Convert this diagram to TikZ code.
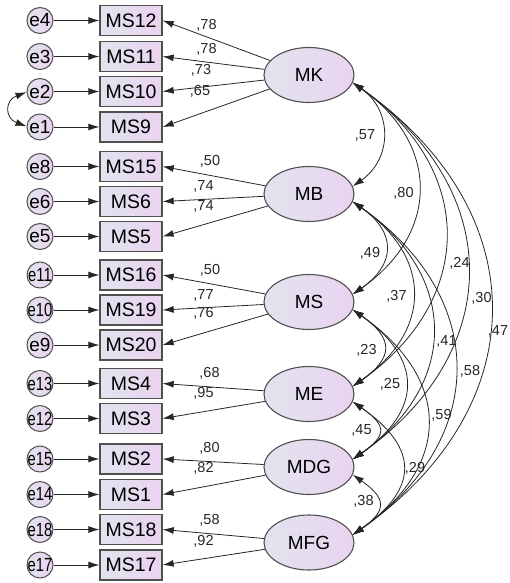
\documentclass[tikz,border=0pt]{standalone}
\usepackage{fontspec}
\setmainfont{Liberation Sans}
\usetikzlibrary{arrows.meta,shapes.geometric}

\definecolor{shadeL}{HTML}{E1E4EE}
\definecolor{shadeR}{HTML}{EAD3F0}
\definecolor{edgegray}{HTML}{505050}

\tikzset{
	obs/.style={draw=edgegray, line width=1.3pt, left color=shadeL, right color=shadeR, minimum width=62pt, minimum height=30pt, inner sep=0pt, font=\fontsize{19.5}{20}\selectfont},
	lat/.style={ellipse, draw=edgegray, line width=1.1pt, left color=shadeL, right color=shadeR, minimum width=90pt, minimum height=55pt, inner sep=0pt, font=\fontsize{19}{20}\selectfont},
	err/.style={circle, draw=edgegray, line width=1pt, left color=shadeL, right color=shadeR, minimum size=26pt, inner sep=0pt, font=\fontsize{19}{20}\selectfont},
	arr/.style={-{Latex[length=11pt,width=7pt]}, line width=0.8pt, draw=black!85},
	cov/.style={{Latex[length=11pt,width=7pt]}-{Latex[length=11pt,width=7pt]}, line width=0.8pt, draw=black!85},
	lbl/.style={font=\fontsize{14.5}{15}\selectfont, inner sep=0pt, text=black!85}
}

\begin{document}
\begin{tikzpicture}[x=1pt, y=1pt]
	\useasboundingbox (0,0) rectangle (510,-583);
	% Items and errors
	\foreach \nm/\y/\e/\sx in {MS12/20.5/e4/1, MS11/56.5/e3/1, MS10/91.5/e2/1, MS9/127/e1/1, MS15/166.5/e8/1, MS6/201.5/e6/1, MS5/236.5/e5/1, MS16/275/e11/.78, MS19/310/e10/.78, MS20/345/e9/1, MS4/383.5/e13/.78, MS3/418.5/e12/.78, MS2/459/e15/.78, MS1/494.5/e14/.78, MS18/529.5/e18/.78, MS17/565/e17/.78} {
		\node[obs] (\nm) at (131,-\y) {\nm};
		\node[err] (\e) at (40,-\y) {\makebox[0pt]{\scalebox{\sx}[1]{\e}}};
		\draw[arr] (\e) -- (\nm);
	}
	% Factors
	\foreach \lv/\y in {MK/75, MB/194, MS/302, ME/394, MDG/467, MFG/542.5} {
		\node[lat] (\lv) at (309,-\y) {\lv};
	}
	% Loadings
	\foreach \lv/\nm/\val/\lx/\ly in {MK/MS12/78/206.5/25, MK/MS11/78/206.5/49.5, MK/MS10/73/201/70, MK/MS9/65/200/91, MB/MS15/50/210/161.5, MB/MS6/74/203.5/186.5, MB/MS5/74/203.5/206.5, MS/MS16/50/210/270, MS/MS19/77/203.5/295, MS/MS20/76/203.5/313.5, ME/MS4/68/209.5/373.5, ME/MS3/95/203.5/393.5, MDG/MS2/80/209.5/448.5, MDG/MS1/82/203.5/468.5, MFG/MS18/58/209.5/520, MFG/MS17/92/203.5/541.5} {
		\draw[arr] (\lv) -- (\nm.east);
		\node[lbl] (l-\nm) at (\lx,-\ly) {,\val};
	}
	% e1 with e2
	\draw[cov] (e2.183) to[out=200, in=160, looseness=1.75] (e1.177);
	% Covariances
	\foreach \a/\b/\lo in {MK/MB/1.2, MK/MS/1.29, MK/ME/1.27, MK/MDG/1.27, MK/MFG/1.27, MB/MS/1.47, MB/ME/1.35, MB/MDG/1.29, MB/MFG/1.28, MS/ME/1.68, MS/MDG/1.47, MS/MFG/1.38, ME/MDG/1.87, ME/MFG/1.56, MDG/MFG/1.78} {
		\draw[cov] (\a.-10) to[out=-35, in=35, looseness=\lo] (\b.10);
	}
	\foreach \val/\lx/\ly in {57/365/135, 80/403.5/193.5, 49/370/253.5, 24/459.5/263.5, 30/481.5/298.5, 37/396.5/296.5, 47/498/331.5, 41/446.5/341.5, 23/366.5/350, 58/470/371.5, 25/390/384, 59/441.5/415, 45/361.5/430, 29/415/468.5, 38/363.5/501.5} {
		\node[lbl] (c-\val) at (\lx,-\ly) {,\val};
	}
\end{tikzpicture}
\end{document}
